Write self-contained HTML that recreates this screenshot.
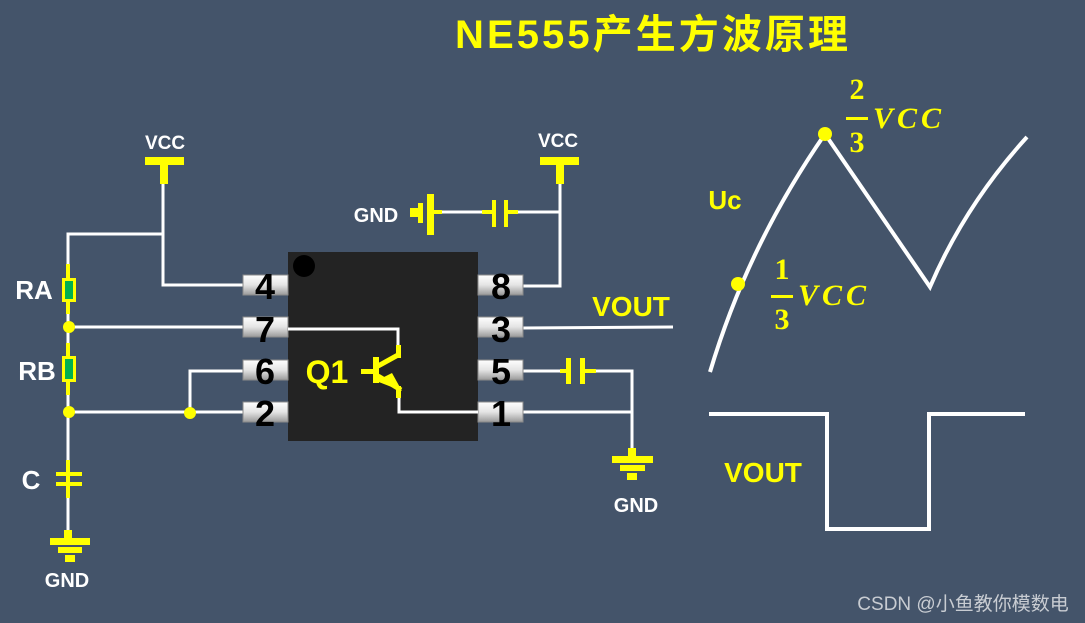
<!DOCTYPE html>
<html><head><meta charset="utf-8"><style>
html,body{margin:0;padding:0;background:#44546a;}
svg{display:block}
text{font-family:"Liberation Sans","Noto Sans CJK SC",sans-serif;font-weight:bold}
</style></head><body>
<svg width="1085" height="623" viewBox="0 0 1085 623" xmlns="http://www.w3.org/2000/svg">
<defs>
<linearGradient id="pg" x1="0" y1="0" x2="0" y2="1">
<stop offset="0" stop-color="#ffffff"/><stop offset="0.5" stop-color="#e4e4e4"/><stop offset="1" stop-color="#9a9a9a"/>
</linearGradient>
</defs>
<rect width="1085" height="623" fill="#44546a"/>
<text x="455" y="48" font-size="40" fill="#ffff00" textLength="393" lengthAdjust="spacing">NE555产生方波原理</text>

<g stroke="#fff" stroke-width="3" fill="none">
<polyline points="163,183 163,285 243,285"/>
<polyline points="163,234 68,234 68,264"/>
<line x1="68" y1="314" x2="68" y2="343"/>
<line x1="68" y1="395" x2="68" y2="460"/>
<line x1="68" y1="498" x2="68" y2="530"/>
<line x1="68" y1="327" x2="243" y2="327"/>
<line x1="68" y1="412" x2="243" y2="412"/>
<polyline points="190,412 190,371 243,371"/>
<polyline points="523,286 560,286 560,183"/>
<line x1="440" y1="212" x2="485" y2="212"/>
<line x1="518" y1="212" x2="560" y2="212"/>
<line x1="523" y1="328" x2="673" y2="327"/>
<line x1="523" y1="371" x2="560" y2="371"/>
<polyline points="596,371 632,371 632,458"/>
<line x1="523" y1="412" x2="632" y2="412"/>
</g>

<text x="165" y="149" font-size="19" fill="#fff" text-anchor="middle">VCC</text>
<rect x="145" y="157" width="39" height="8" fill="#ff0"/>
<rect x="160" y="157" width="8" height="27" fill="#ff0"/>
<text x="558" y="147" font-size="19" fill="#fff" text-anchor="middle">VCC</text>
<rect x="540" y="157" width="39" height="8" fill="#ff0"/>
<rect x="556" y="157" width="8" height="27" fill="#ff0"/>

<rect x="66" y="264" width="4" height="50" fill="#ff0"/>
<rect x="62" y="278" width="14" height="24" fill="#ff0"/>
<rect x="65" y="281" width="8" height="18" fill="#00b050"/>
<text x="34" y="299" font-size="26" fill="#fff" text-anchor="middle">RA</text>
<circle cx="69" cy="327" r="6" fill="#ff0"/>
<rect x="66" y="343" width="4" height="52" fill="#ff0"/>
<rect x="62" y="356" width="14" height="26" fill="#ff0"/>
<rect x="65" y="359" width="8" height="20" fill="#00b050"/>
<text x="37" y="380" font-size="26" fill="#fff" text-anchor="middle">RB</text>
<circle cx="69" cy="412" r="6" fill="#ff0"/>
<circle cx="190" cy="413" r="6" fill="#ff0"/>
<rect x="66" y="460" width="4" height="38" fill="#ff0"/>
<rect x="56" y="472" width="26" height="4" fill="#ff0"/>
<rect x="56" y="482" width="26" height="4" fill="#ff0"/>
<text x="31" y="489" font-size="26" fill="#fff" text-anchor="middle">C</text>
<rect x="64" y="530" width="8" height="10" fill="#ff0"/>
<rect x="50" y="538" width="40" height="7" fill="#ff0"/>
<rect x="58" y="547" width="24" height="6" fill="#ff0"/>
<rect x="65" y="555" width="10" height="7" fill="#ff0"/>
<text x="67" y="587" font-size="20" fill="#fff" text-anchor="middle">GND</text>

<text x="376" y="222" font-size="20" fill="#fff" text-anchor="middle">GND</text>
<rect x="410" y="208" width="8" height="9" fill="#ff0"/>
<rect x="418" y="203" width="5" height="20" fill="#ff0"/>
<rect x="427" y="194" width="7" height="41" fill="#ff0"/>
<rect x="434" y="210" width="8" height="4" fill="#ff0"/>
<rect x="482" y="210" width="10" height="4" fill="#ff0"/>
<rect x="492" y="200" width="4" height="27" fill="#ff0"/>
<rect x="504" y="200" width="4" height="27" fill="#ff0"/>
<rect x="508" y="210" width="10" height="4" fill="#ff0"/>

<rect x="288" y="252" width="190" height="189" fill="#232323"/>
<circle cx="304" cy="266" r="11" fill="#000"/>
<g fill="url(#pg)" stroke="#8a8a8a" stroke-width="1">
<rect x="243" y="275" width="45" height="20"/>
<rect x="243" y="317" width="45" height="20"/>
<rect x="243" y="360" width="45" height="20"/>
<rect x="243" y="402" width="45" height="20"/>
<rect x="478" y="275" width="45" height="20"/>
<rect x="478" y="317" width="45" height="20"/>
<rect x="478" y="360" width="45" height="20"/>
<rect x="478" y="402" width="45" height="20"/>
</g>
<g font-size="36" fill="#000" text-anchor="middle">
<text x="265" y="299">4</text><text x="265" y="342">7</text><text x="265" y="384">6</text><text x="265" y="426">2</text>
<text x="501" y="299">8</text><text x="501" y="342">3</text><text x="501" y="384">5</text><text x="501" y="426">1</text>
</g>
<g stroke="#fff" stroke-width="3" fill="none">
<polyline points="288,329 398,329 398,345"/>
<polyline points="399,397 399,412 478,412"/>
</g>
<rect x="396" y="345" width="5" height="13" fill="#ff0"/>
<rect x="373" y="357" width="6" height="26" fill="#ff0"/>
<rect x="361" y="369" width="12" height="5" fill="#ff0"/>
<line x1="378" y1="366" x2="398" y2="355" stroke="#ff0" stroke-width="5"/>
<line x1="378" y1="376" x2="401" y2="390" stroke="#ff0" stroke-width="5"/>
<polygon points="376,381 392,373 402,391" fill="#ff0"/>
<rect x="396" y="386" width="5" height="12" fill="#ff0"/>
<text x="327" y="383" font-size="32" fill="#ff0" text-anchor="middle">Q1</text>

<text x="631" y="316" font-size="28" fill="#ff0" text-anchor="middle">VOUT</text>
<rect x="560" y="369" width="7" height="4" fill="#ff0"/>
<rect x="566" y="358" width="5" height="26" fill="#ff0"/>
<rect x="580" y="358" width="5" height="26" fill="#ff0"/>
<rect x="584" y="369" width="12" height="4" fill="#ff0"/>
<rect x="628" y="448" width="8" height="10" fill="#ff0"/>
<rect x="612" y="456" width="41" height="7" fill="#ff0"/>
<rect x="620" y="465" width="25" height="6" fill="#ff0"/>
<rect x="627" y="473" width="10" height="7" fill="#ff0"/>
<text x="636" y="512" font-size="20" fill="#fff" text-anchor="middle">GND</text>

<path d="M710,372 Q748,245 825,134 L930,287 Q965,205 1027,137" stroke="#fff" stroke-width="4" fill="none"/>
<circle cx="738" cy="284" r="7" fill="#ff0"/>
<circle cx="825" cy="134" r="7" fill="#ff0"/>
<text x="725" y="209" font-size="26" fill="#ff0" text-anchor="middle">Uc</text>
<g fill="#ff0">
<text x="857" y="99" font-size="30" text-anchor="middle" style="font-family:'Liberation Serif',serif">2</text>
<rect x="846" y="117" width="22" height="3"/>
<text x="857" y="152" font-size="30" text-anchor="middle" style="font-family:'Liberation Serif',serif">3</text>
<text x="873" y="128" font-size="30" font-style="italic" letter-spacing="4" style="font-family:'Liberation Serif',serif">VCC</text>
<text x="782" y="279" font-size="30" text-anchor="middle" style="font-family:'Liberation Serif',serif">1</text>
<rect x="771" y="295" width="22" height="3"/>
<text x="782" y="329" font-size="30" text-anchor="middle" style="font-family:'Liberation Serif',serif">3</text>
<text x="798" y="305" font-size="30" font-style="italic" letter-spacing="4" style="font-family:'Liberation Serif',serif">VCC</text>
</g>
<polyline points="709,414 827,414 827,529 929,529 929,414 1025,414" stroke="#fff" stroke-width="4" fill="none"/>
<text x="763" y="482" font-size="28" fill="#ff0" text-anchor="middle">VOUT</text>
<text x="963" y="610" font-size="19" fill="#c8ccd2" text-anchor="middle" style="font-weight:normal">CSDN @小鱼教你模数电</text>
</svg>
</body></html>
